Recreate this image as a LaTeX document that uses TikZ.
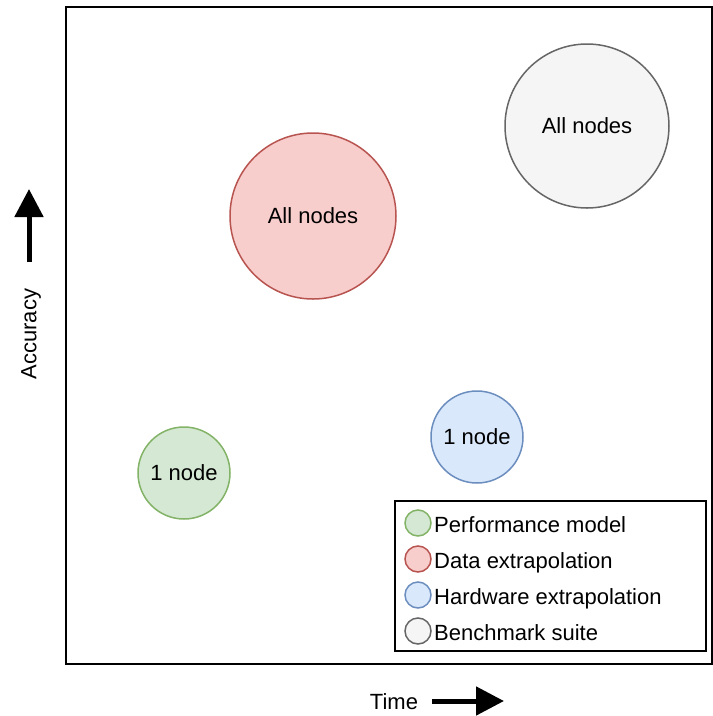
\documentclass[tikz,border=0pt]{standalone}
\usepackage{fontspec}
\setmainfont{Liberation Sans}
\usetikzlibrary{arrows.meta}
\definecolor{gfill}{HTML}{D5E8D4}\definecolor{gline}{HTML}{82B366}
\definecolor{rfill}{HTML}{F8CECC}\definecolor{rline}{HTML}{B85450}
\definecolor{bfill}{HTML}{DAE8FC}\definecolor{bline}{HTML}{6C8EBF}
\definecolor{kfill}{HTML}{F5F5F5}\definecolor{kline}{HTML}{666666}
\begin{document}
\begin{tikzpicture}[x=1pt,y=-1pt,
  every node/.style={font=\fontsize{22}{26}\selectfont, inner sep=0pt},
  bubble/.style={circle, line width=1.5pt, align=center},
  keydot/.style={circle, line width=1.5pt, minimum size=26pt},
  keytext/.style={anchor=base west},
  axisarrow/.style={line width=5pt, -{Triangle[length=28pt,width=28pt]}}]
\useasboundingbox (0,0) rectangle (713,716);
% plot frame
\draw[line width=2pt] (66,7) rectangle (712,664);
% axes
\coordinate (ybot) at (29,262);
\coordinate (ytop) at (29,189);
\draw[axisarrow] (ybot) -- (ytop);
\node[rotate=90] (acc) at (31,334) {Accuracy};
\coordinate (xleft) at (432,701);
\coordinate (xright) at (504,701);
\draw[axisarrow] (xleft) -- (xright);
\node (time) at (394,702) {Time};
% methods
\node[bubble, fill=kfill, draw=kline, minimum size=164pt] (bench) at (587,126) {All nodes};
\node[bubble, fill=rfill, draw=rline, minimum size=166pt] (data) at (313,216) {All nodes};
\node[bubble, fill=bfill, draw=bline, minimum size=92pt] (hw) at (477,437) {1 node};
\node[bubble, fill=gfill, draw=gline, minimum size=92pt] (perf) at (184,473) {1 node};
% legend
\draw[line width=1.5pt] (395,501) rectangle (706,651);
\node[keydot, fill=gfill, draw=gline] (k1) at (418,523) {};
\node[keydot, fill=rfill, draw=rline] (k2) at (418,559) {};
\node[keydot, fill=bfill, draw=bline] (k3) at (418,595) {};
\node[keydot, fill=kfill, draw=kline] (k4) at (418,631) {};
\node[keytext] (t1) at (434,532) {Performance model};
\node[keytext] (t2) at (434,568) {Data extrapolation};
\node[keytext] (t3) at (434,604) {Hardware extrapolation};
\node[keytext] (t4) at (434,640) {Benchmark suite};
\end{tikzpicture}
\end{document}
